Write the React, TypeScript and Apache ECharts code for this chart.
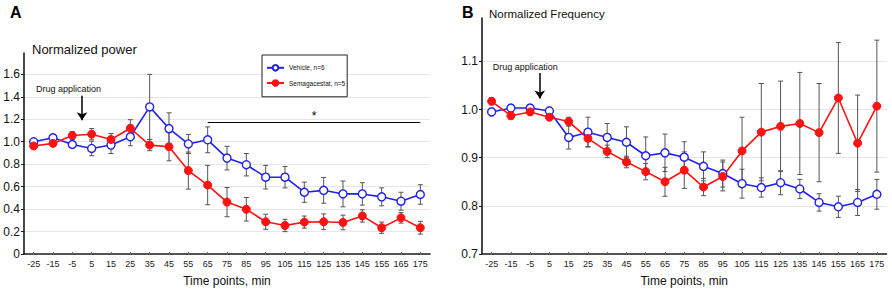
import React, { useEffect, useRef } from "react";
import * as echarts from "echarts";

const FONT = "'Liberation Sans', Arial, sans-serif";

const CATEGORIES = ["-25", "-15", "-5", "5", "15", "25", "35", "45", "55", "65", "75", "85", "95", "105", "115", "125", "135", "145", "155", "165", "175"];

const VEH = "Vehicle, n=6";
const SEMA = "Semagacestat, n=5";

// Panel A: normalized power
const powerVehicle = [1.0, 1.035, 0.975, 0.94, 0.97, 1.044, 1.31, 1.117, 0.98, 1.017, 0.854, 0.795, 0.684, 0.684, 0.55, 0.567, 0.535, 0.535, 0.509, 0.47, 0.53];
const powerVehicleErr = [0.02, 0.025, 0.02, 0.065, 0.075, 0.08, 0.29, 0.14, 0.085, 0.115, 0.105, 0.1, 0.105, 0.095, 0.09, 0.115, 0.115, 0.1, 0.08, 0.08, 0.087];
const powerSema = [0.962, 0.985, 1.055, 1.067, 1.02, 1.12, 0.97, 0.955, 0.743, 0.614, 0.462, 0.398, 0.287, 0.254, 0.284, 0.287, 0.281, 0.339, 0.234, 0.322, 0.234];
const powerSemaErr = [0.02, 0.02, 0.035, 0.05, 0.053, 0.076, 0.05, 0.125, 0.165, 0.175, 0.13, 0.105, 0.067, 0.055, 0.054, 0.07, 0.065, 0.055, 0.05, 0.047, 0.057];

// Panel B: normalized frequency
const freqVehicle = [0.995, 1.003, 1.003, 0.997, 0.942, 0.953, 0.942, 0.932, 0.904, 0.91, 0.901, 0.882, 0.867, 0.846, 0.838, 0.848, 0.835, 0.807, 0.798, 0.807, 0.824];
const freqVehicleErr = [0.008, 0.007, 0.007, 0.008, 0.024, 0.031, 0.029, 0.032, 0.039, 0.039, 0.032, 0.03, 0.028, 0.03, 0.02, 0.025, 0.02, 0.018, 0.022, 0.027, 0.031];
const freqSema = [1.017, 0.987, 0.995, 0.984, 0.975, 0.94, 0.913, 0.891, 0.871, 0.85, 0.874, 0.839, 0.861, 0.914, 0.953, 0.965, 0.971, 0.952, 1.024, 0.93, 1.007];
const freqSemaErr = [0.007, 0.007, 0.006, 0.006, 0.009, 0.017, 0.013, 0.012, 0.017, 0.03, 0.038, 0.018, 0.03, 0.07, 0.101, 0.094, 0.106, 0.102, 0.115, 0.1, 0.137];

// Annotations (data coordinates: time in min, value)
const drugArrowA = { x: 0, from: 1.41, to: 1.19 };
const drugTextA = { x: -7, y: 1.467 };
const drugArrowB = { x: 0, from: 1.076, to: 1.023 };
const drugTextB = { x: -7.5, y: 1.088 };
const signifA = { from: 65, to: 175, y: 1.17 };

const BLUE = "#2121ee";
const RED = "#fe1212";
const AXIS = "#1a1a1a";

function errSeries(id: string, xi: number, yi: number, means: number[], errs: number[]) {
  return {
    type: "custom",
    name: id,
    xAxisIndex: xi,
    yAxisIndex: yi,
    silent: true,
    z: 1,
    data: means.map((m, i) => [i, m, errs[i]]),
    encode: { x: 0, y: 1 },
    renderItem: (params: any, api: any) => {
      const x = api.value(0);
      const m = api.value(1);
      const e = api.value(2);
      const top = api.coord([x, m + e]);
      const bot = api.coord([x, m - e]);
      const hw = 2.5;
      const st = { stroke: "#555", lineWidth: 1 };
      return {
        type: "group",
        children: [
          { type: "line", shape: { x1: top[0], y1: top[1], x2: bot[0], y2: bot[1] }, style: st },
          { type: "line", shape: { x1: top[0] - hw, y1: top[1], x2: top[0] + hw, y2: top[1] }, style: st },
          { type: "line", shape: { x1: bot[0] - hw, y1: bot[1], x2: bot[0] + hw, y2: bot[1] }, style: st },
        ],
      };
    },
  };
}

function lineSeries(name: string, xi: number, yi: number, data: number[], open: boolean) {
  const color = open ? BLUE : RED;
  return {
    type: "line",
    name,
    xAxisIndex: xi,
    yAxisIndex: yi,
    data,
    z: 3,
    symbol: "circle",
    symbolSize: 8,
    showSymbol: true,
    lineStyle: { color, width: 1.6 },
    itemStyle: open ? { color: "#fff", borderColor: color, borderWidth: 1.4 } : { color, borderColor: color, borderWidth: 1 },
    emphasis: { disabled: true },
  };
}

function annotSeries(xi: number, yi: number, arrow: any, text: any, signif?: any) {
  const lines: any[] = [
    [
      { coord: [arrow.x, arrow.from], symbol: "none" },
      { coord: [arrow.x, arrow.to], symbol: "arrow" },
    ],
  ];
  if (signif) {
    lines.push([
      {
        coord: [signif.from, signif.y],
        symbol: "none",
        label: { show: true, formatter: "*", position: "middle", fontSize: 12, color: "#000", distance: 1 },
        lineStyle: { color: "#000", width: 1.2, type: "solid" },
      },
      { coord: [signif.to, signif.y], symbol: "none" },
    ]);
  }
  return {
    type: "line",
    name: "annot" + xi,
    xAxisIndex: xi,
    yAxisIndex: yi,
    data: [],
    silent: true,
    markLine: {
      silent: true,
      symbol: ["none", "none"],
      symbolSize: 8,
      animation: false,
      label: { show: false },
      lineStyle: { color: "#000", width: 1.5, type: "solid" },
      emphasis: { disabled: true },
      data: lines,
    },
    markPoint: {
      silent: true,
      animation: false,
      data: [
        {
          coord: [text.x, text.y],
          symbol: "rect",
          symbolSize: 1,
          itemStyle: { color: "rgba(0,0,0,0)" },
          label: { show: true, formatter: "Drug application", position: "inside", fontSize: 9, color: "#111", fontFamily: FONT },
        },
      ],
    },
  };
}

function catAxis(gridIndex: number) {
  return {
    gridIndex,
    type: "category",
    data: CATEGORIES,
    boundaryGap: true,
    axisLine: { onZero: false, lineStyle: { color: AXIS, width: 1.6 } },
    axisTick: { show: true, inside: true, length: 2, alignWithLabel: true, lineStyle: { color: "#666" } },
    axisLabel: { fontSize: 9, color: "#222", margin: 5, interval: 0, fontFamily: FONT },
    splitLine: { show: false },
    name: "Time points, min",
    nameLocation: "middle",
    nameGap: 21,
    nameTextStyle: { fontSize: 12, color: "#111", fontFamily: FONT },
  };
}

function valAxisHidden(gridIndex: number) {
  return { gridIndex, type: "value", min: -30, max: 180, show: false, axisLine: { onZero: false } };
}

function yAxis(gridIndex: number, min: number, max: number, interval: number) {
  return {
    gridIndex,
    type: "value",
    min,
    max,
    interval,
    axisLine: { show: true, onZero: false, lineStyle: { color: AXIS, width: 1.6 } },
    axisTick: { show: true, length: 3, lineStyle: { color: AXIS } },
    axisLabel: {
      fontSize: 12,
      color: "#111",
      margin: 4,
      showMaxLabel: false,
      fontFamily: FONT,
      formatter: (v: number) => (v === 0 ? "0" : v.toFixed(1)),
    },
    splitLine: { show: true, showMinLine: false, showMaxLine: false, lineStyle: { color: "#e6e6e6", width: 1 } },
  };
}

export default function App() {
  const ref = useRef<HTMLDivElement>(null);
  useEffect(() => {
    if (!ref.current) return;
    const chart = echarts.init(ref.current, undefined, { renderer: "svg" });
    const option: any = {
      animation: false,
      backgroundColor: "#fff",
      textStyle: { fontFamily: FONT },
      title: [
        { text: "A", left: 10, top: 4, padding: 0, textStyle: { fontSize: 16, fontWeight: "bold", color: "#000", fontFamily: FONT } },
        { text: "Normalized power", left: 32, top: 42.5, padding: 0, textStyle: { fontSize: 13, fontWeight: "normal", color: "#111", fontFamily: FONT } },
        { text: "B", left: 462, top: 4, padding: 0, textStyle: { fontSize: 16, fontWeight: "bold", color: "#000", fontFamily: FONT } },
        { text: "Normalized Frequency", left: 489, top: 8, padding: 0, textStyle: { fontSize: 11.5, fontWeight: "normal", color: "#111", fontFamily: FONT } },
      ],
      legend: {
        data: [VEH, SEMA],
        orient: "vertical",
        left: 262,
        top: 55,
        itemWidth: 17,
        itemHeight: 7,
        itemGap: 7.6,
        padding: [9, 2, 10, 4],
        borderColor: "#222",
        borderWidth: 1,
        backgroundColor: "#fff",
        selectedMode: false,
        textStyle: { fontSize: 6.5, color: "#111", fontFamily: FONT },
      },
      grid: [
        { left: 24, top: 53, width: 406, height: 204 },
        { left: 482, top: 18, width: 404.5, height: 239.3 },
      ],
      xAxis: [catAxis(0), valAxisHidden(0), catAxis(1), valAxisHidden(1)],
      yAxis: [yAxis(0, 0, 1.79, 0.2), yAxis(1, 0.7, 1.19, 0.1)],
      series: [
        errSeries("errVehA", 0, 0, powerVehicle, powerVehicleErr),
        errSeries("errSemaA", 0, 0, powerSema, powerSemaErr),
        lineSeries(VEH, 0, 0, powerVehicle, true),
        lineSeries(SEMA, 0, 0, powerSema, false),
        annotSeries(1, 0, drugArrowA, drugTextA, signifA),
        errSeries("errVehB", 2, 1, freqVehicle, freqVehicleErr),
        errSeries("errSemaB", 2, 1, freqSema, freqSemaErr),
        lineSeries(VEH, 2, 1, freqVehicle, true),
        lineSeries(SEMA, 2, 1, freqSema, false),
        annotSeries(3, 1, drugArrowB, drugTextB),
      ],
    };
    chart.setOption(option);
    return () => chart.dispose();
  }, []);
  return (
    <div
      ref={ref}
      style={{ position: "absolute", left: 0, top: 0, width: 892, height: 292, background: "#fff" }}
    />
  );
}
